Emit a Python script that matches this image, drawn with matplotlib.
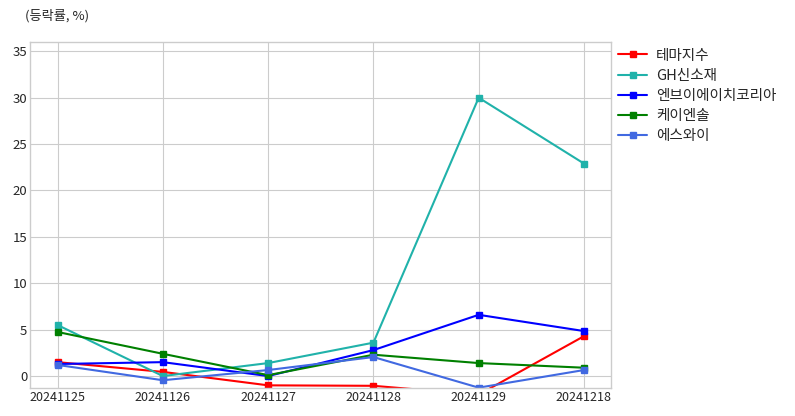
import matplotlib
matplotlib.use("Agg")
import matplotlib.pyplot as plt

plt.style.use("seaborn-v0_8-whitegrid")
plt.rcParams['font.family'] = ['Noto Sans CJK KR', 'DejaVu Sans']
plt.rcParams['axes.unicode_minus'] = False

dates = ["20241125", "20241126", "20241127", "20241128", "20241129", "20241218"]

theme_index = [1.5, 0.45, -1.0, -1.05, -2.0, 4.3]
gh_material = [5.5, 0.0, 1.4, 3.6, 30.0, 22.9]
nvh_korea = [1.3, 1.5, 0.0, 2.8, 6.6, 4.85]
k_ensol = [4.75, 2.4, 0.1, 2.3, 1.4, 0.9]
sy = [1.2, -0.45, 0.65, 2.05, -1.25, 0.65]

series = [
    ("테마지수", theme_index, "red"),
    ("GH신소재", gh_material, "lightseagreen"),
    ("엔브이에이치코리아", nvh_korea, "blue"),
    ("케이엔솔", k_ensol, "green"),
    ("에스와이", sy, "royalblue"),
]

fig = plt.figure(figsize=(7.95, 4.16), dpi=100)
ax = fig.add_axes([0.038, 0.067, 0.731, 0.832])

x = list(range(len(dates)))
for name, vals, color in series:
    ax.plot(x, vals, marker="s", markersize=4, linewidth=1.5, color=color, label=name)

ax.set_xticks(x)
ax.set_xticklabels(dates, fontsize=9)
ax.set_xlim(-0.26, 5.26)
ax.set_ylim(-1.3, 36)
ax.set_yticks([0, 5, 10, 15, 20, 25, 30, 35])
ax.tick_params(axis="y", labelsize=9.5, pad=2)
ax.tick_params(axis="x", pad=2)
for s in ax.spines.values():
    s.set_visible(True)
    s.set_color("#cccccc")

ax.legend(loc="upper left", bbox_to_anchor=(1.0, 1.0), fontsize=10.5, frameon=False,
          borderaxespad=0.05, handlelength=2.0, handletextpad=0.6, labelspacing=0.42)
fig.text(0.031, 0.963, "(등락률, %)", fontsize=9.5, ha="left", va="center")

plt.savefig("out.png", dpi=100)
